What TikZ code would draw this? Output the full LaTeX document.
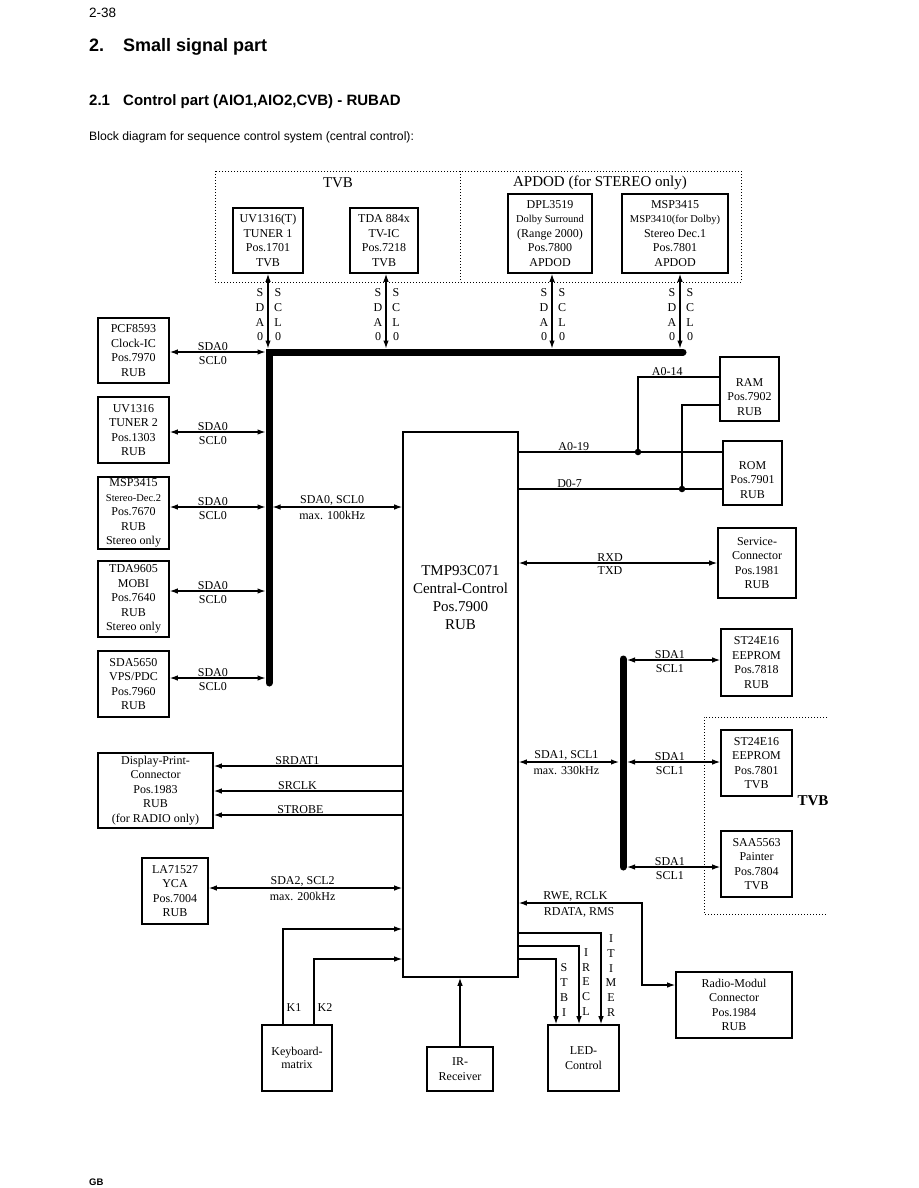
\documentclass[tikz,border=0pt]{standalone}
\usepackage{fontspec}
\setmainfont{Liberation Serif}
\newfontfamily\headfont{Liberation Sans}
\usetikzlibrary{arrows.meta,positioning}

\newcommand{\fsz}[2]{\fontsize{#1}{#2}\selectfont}
\newcommand{\smalltxt}[1]{{\fsz{10.5}{12}#1}}

\begin{document}
\begin{tikzpicture}[
  x=1pt, y=-1pt,
  font=\fsz{12}{14.5},
  blk/.style={draw, line width=1.6pt, align=center, inner sep=0pt},
  wire/.style={line width=1.2pt},
  arr/.style={wire, -{Latex[length=8pt,width=5.5pt]}},
  biarr/.style={wire, {Latex[length=8pt,width=5.5pt]}-{Latex[length=8pt,width=5.5pt]}},
  bus/.style={line width=7pt, line cap=round},
  grp/.style={dotted, line width=1pt},
  lbup/.style={above, inner sep=0.6pt},
  lbdn/.style={below, inner sep=0pt, yshift=-3.5pt},
  vstack/.style={align=center, inner sep=0pt, font=\fsz{12}{14.7}},
  jdot/.style={circle, fill, inner sep=0pt, minimum size=6.5pt},
  hdr/.style={anchor=base west, inner sep=0pt}
]
\useasboundingbox (0,0) rectangle (918,1188);

% Page heading
\node[hdr, font=\headfont\fsz{13.5}{16}] (pgno) at (89,18) {2-38};
\node[hdr, font=\headfont\bfseries\fsz{18}{22}] (secno) at (89,52) {2.};
\node[hdr, font=\headfont\bfseries\fsz{18}{22}] (sectxt) at (123,52) {Small signal part};
\node[hdr, font=\headfont\bfseries\fsz{15}{18}] (subno) at (89,106) {2.1};
\node[hdr, font=\headfont\bfseries\fsz{15}{18}] (subtxt) at (123,106) {Control part (AIO1,AIO2,CVB) - RUBAD};
\node[hdr, font=\headfont\fsz{12.2}{14}] (intro) at (89,140) {Block diagram for sequence control system (central control):};
\node[hdr, font=\headfont\bfseries\fsz{9.5}{11}] (foot) at (89,1185.5) {GB};

% TVB / APDOD boards on the SDA0 bus
\draw[grp] (215,171) rectangle (741,282);
\draw[grp] (460,171) -- (460,282);
\node[font=\fsz{15}{18}] (tvbhd) at (338,183) {TVB};
\node[font=\fsz{15}{18}] (apdhd) at (600,183) {APDOD (for STEREO only)};

\node[blk, minimum width=70pt, minimum height=65pt] (tun1) at (268,240.5) {UV1316(T)\\TUNER 1\\Pos.1701\\TVB};
\node[blk, minimum width=68pt, minimum height=65pt] (tvic) at (384,240.5) {TDA 884x\\TV-IC\\Pos.7218\\TVB};
\node[blk, minimum width=84pt, minimum height=79pt] (dpl) at (550,233.5)
  {DPL3519\\\smalltxt{Dolby Surround}\\(Range 2000)\\Pos.7800\\APDOD};
\node[blk, minimum width=106pt, minimum height=79pt] (msp1) at (675,233.5)
  {MSP3415\\\smalltxt{MSP3410(for Dolby)}\\Stereo Dec.1\\Pos.7801\\APDOD};

% SDA0 / SCL0 bus
\coordinate (bus0a) at (269,352);
\coordinate (bus0b) at (683,352);
\coordinate (bus0c) at (269,683);
\coordinate (bus0t) at (0,348.5);
\coordinate (busL) at (265.5,352);
\coordinate (busR) at (272.5,352);
\draw[bus] (bus0b) -- (bus0a) -- (bus0c);

\draw[biarr] (tun1.south) -- (tun1.south |- bus0t);
\draw[biarr] ([xshift=2pt]tvic.south) -- ([xshift=2pt]tvic.south |- bus0t);
\draw[biarr] ([xshift=2pt]dpl.south) -- ([xshift=2pt]dpl.south |- bus0t);
\draw[biarr] ([xshift=5pt]msp1.south) -- ([xshift=5pt]msp1.south |- bus0t);
\foreach \bx in {268,386,552,680} {
  \node[vstack] (sda\bx) at (\bx-8,315) {S\\D\\A\\0};
  \node[vstack] (scl\bx) at (\bx+10,315) {S\\C\\L\\0};
}

% RUB devices left of the bus
\node[blk, minimum width=71pt, minimum height=65pt] (clk) at (133.5,350.5) {PCF8593\\Clock-IC\\Pos.7970\\RUB};
\node[blk, minimum width=71pt, minimum height=66pt] (tun2) at (133.5,430) {UV1316\\TUNER 2\\Pos.1303\\RUB};
\node[blk, minimum width=71pt, minimum height=72pt] (msp2) at (133.5,513)
  {MSP3415\\\smalltxt{Stereo-Dec.2}\\Pos.7670\\RUB\\Stereo only};
\node[blk, minimum width=71pt, minimum height=76pt] (mobi) at (133.5,599) {TDA9605\\MOBI\\Pos.7640\\RUB\\Stereo only};
\node[blk, minimum width=71pt, minimum height=66pt] (vps) at (133.5,684) {SDA5650\\VPS/PDC\\Pos.7960\\RUB};
\foreach \n/\yy in {clk/352, tun2/432, msp2/507, mobi/591, vps/678}
  \draw[biarr] (\n.east |- 0,\yy) -- node[lbup, pos=.45]{SDA0} node[lbdn, pos=.45]{SCL0} (busL |- 0,\yy);

% Central control
\node[blk, minimum width=115pt, minimum height=545pt] (cpu) at (460.5,704.5) {};
\node[font=\fsz{15}{18}, align=center] (cputxt) at (460.5,598) {TMP93C071\\Central-Control\\Pos.7900\\RUB};
\draw[biarr] (busR |- 0,507) -- node[lbup, pos=.46]{SDA0, SCL0} node[lbdn, pos=.46]{max. 100kHz} (cpu.west |- 0,507);

% Memory
\node[blk, minimum width=59pt, minimum height=64pt,
  label={[align=center, yshift=-8pt]center:RAM\\Pos.7902\\RUB}] (ram) at (749.5,389) {};
\node[blk, minimum width=59pt, minimum height=64pt,
  label={[align=center, yshift=-7pt]center:ROM\\Pos.7901\\RUB}] (rom) at (752.5,473) {};
\coordinate (ja) at (638,452);
\coordinate (jd) at (682,489);
\draw[wire] (cpu.east |- ja) -- node[lbup, pos=.27]{A0-19} (rom.west |- ja);
\draw[wire] (cpu.east |- jd) -- node[lbup, pos=.25]{D0-7} (rom.west |- jd);
\draw[wire] (ja) |- node[lbup, pos=.68]{A0-14} (ram.west |- 0,377);
\draw[wire] (jd) |- (ram.west |- 0,405);
\node[jdot] (jadot) at (ja) {};
\node[jdot] (jddot) at (jd) {};

\node[blk, minimum width=78pt, minimum height=70pt] (svc) at (757,563) {Service-\\Connector\\Pos.1981\\RUB};
\draw[biarr] (cpu.east |- svc.west) -- node[lbup, pos=.46]{RXD} node[lbdn, pos=.46]{TXD} (svc.west);

% SDA1 / SCL1 bus
\coordinate (bus1a) at (623,659);
\coordinate (bus1b) at (623,867);
\coordinate (bus1L) at (619,0);
\coordinate (bus1R) at (627,0);
\draw[bus] (bus1a) -- (bus1b);
\draw[grp] (827,717) -- (704,717) -- (704,914) -- (827,914);
\node[font=\bfseries\fsz{15}{18}] (tvbr) at (813,801) {TVB};

\node[blk, minimum width=71pt, minimum height=67pt] (ee1) at (756.5,662.5) {ST24E16\\EEPROM\\Pos.7818\\RUB};
\node[blk, minimum width=71pt, minimum height=66pt] (ee2) at (756.5,763) {ST24E16\\EEPROM\\Pos.7801\\TVB};
\node[blk, minimum width=71pt, minimum height=66pt] (ttx) at (756.5,864) {SAA5563\\Painter\\Pos.7804\\TVB};
\foreach \n/\yy in {ee1/660, ee2/762, ttx/867}
  \draw[biarr] (bus1R |- 0,\yy) -- node[lbup, pos=.46]{SDA1} node[lbdn, pos=.46]{SCL1} (\n.west |- 0,\yy);
\draw[biarr] (cpu.east |- 0,762) -- node[lbup, pos=.475]{SDA1, SCL1} node[lbdn, pos=.475]{max. 330kHz} (bus1L |- 0,762);

% Display, YCA
\node[blk, minimum width=115pt, minimum height=75pt] (dsp) at (155.5,790.5)
  {Display-Print-\\Connector\\Pos.1983\\RUB\\(for RADIO only)};
\draw[arr] (cpu.west |- 0,766) -- node[lbup, pos=.556]{SRDAT1} (dsp.east |- 0,766);
\draw[arr] (cpu.west |- 0,791) -- node[lbup, pos=.556]{SRCLK} (dsp.east |- 0,791);
\draw[arr] (cpu.west |- 0,815) -- node[lbup, pos=.54]{STROBE} (dsp.east |- 0,815);

\node[blk, minimum width=66pt, minimum height=66pt] (yca) at (175,891) {LA71527\\YCA\\Pos.7004\\RUB};
\draw[biarr] (yca.east |- 0,888) -- node[lbup, pos=.485]{SDA2, SCL2} node[lbdn, pos=.485]{max. 200kHz} (cpu.west |- 0,888);

% Keyboard, IR, LED, radio module
\node[blk, minimum width=70pt, minimum height=66pt, font=\fsz{12}{13.5}] (kbd) at (297,1058) {Keyboard-\\matrix};
\draw[arr] ([xshift=-14pt]kbd.north) |- node[pos=.09, right, inner sep=3pt]{K1} (cpu.west |- 0,929);
\draw[arr] ([xshift=17pt]kbd.north) |- node[pos=.13, right, inner sep=3pt]{K2} (cpu.west |- 0,959);

\node[blk, minimum width=66pt, minimum height=44pt] (irx) at (460,1069) {IR-\\Receiver};
\draw[arr] (irx.north) -- (irx.north |- cpu.south);

\node[blk, minimum width=71pt, minimum height=66pt] (led) at (583.5,1058) {LED-\\Control};
\draw[arr] (cpu.east |- 0,959) -| ([xshift=-27.5pt]led.north);
\draw[arr] (cpu.east |- 0,946) -| ([xshift=-4.5pt]led.north);
\draw[arr] (cpu.east |- 0,933) -| ([xshift=17.5pt]led.north);
\node[vstack] (stbi) at (564,990) {S\\T\\B\\I};
\node[vstack] (irecl) at (586,982) {I\\R\\E\\C\\L};
\node[vstack] (itimer) at (611,975.5) {I\\T\\I\\M\\E\\R};

\node[blk, minimum width=116pt, minimum height=66pt] (rad) at (734,1005) {Radio-Modul\\Connector\\Pos.1984\\RUB};
\coordinate (rbend) at (642,903);
\draw[biarr] (cpu.east |- rbend) -- node[lbup, pos=.46]{RWE, RCLK} node[lbdn, pos=.49]{RDATA, RMS} (rbend) |- (rad.west |- 0,985);
\end{tikzpicture}
\end{document}
